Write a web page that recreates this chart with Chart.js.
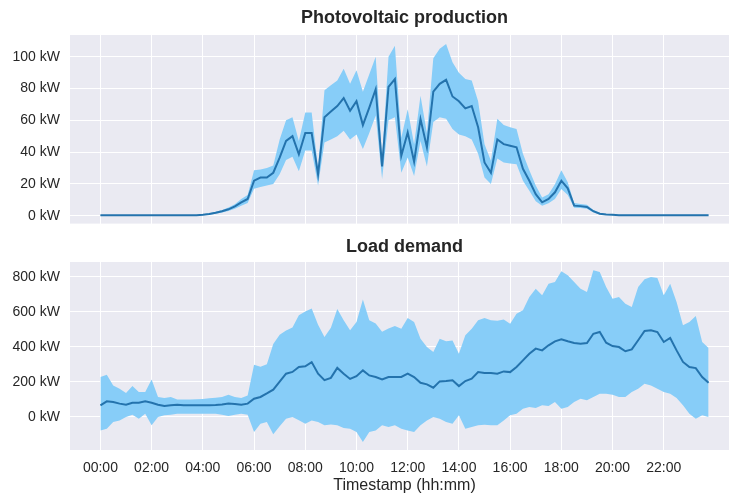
<!DOCTYPE html>
<html>
<head>
<meta charset="utf-8">
<script src="https://cdn.jsdelivr.net/npm/chart.js@4.4.0/dist/chart.umd.min.js"></script>
<style>
  html, body { margin: 0; padding: 0; background: #fff; overflow: hidden; }
  #wrap { position: relative; width: 729px; height: 495px; overflow: hidden; }
  canvas { position: absolute; left: 0; }
  #pvChart { top: 0; }
  #loadChart { top: 233px; }
</style>
</head>
<body>
<div id="wrap">
  <canvas id="pvChart" width="810" height="242"></canvas>
  <canvas id="loadChart" width="810" height="262"></canvas>
</div>
<script>
// 15 minute slots, x in hours
const slotHours = Array.from({ length: 96 }, (_, i) => i * 0.25);
const hourTicks = [0, 2, 4, 6, 8, 10, 12, 14, 16, 18, 20, 22];
const hourLabels = ['00:00', '02:00', '04:00', '06:00', '08:00', '10:00',
                    '12:00', '14:00', '16:00', '18:00', '20:00', '22:00'];

// Photovoltaic production (kW)
const pvMean = [
  0.2, 0.2, 0.2, 0.2, 0.2, 0.2, 0.2, 0.2, 0.2, 0.2,
  0.2, 0.2, 0.2, 0.2, 0.2, 0.2, 0.5, 1.0, 1.8, 2.8,
  4.0, 5.8, 8.4, 10.5, 22, 24, 24, 27, 36.5, 47,
  50, 38.6, 52, 52, 26, 62, 65.5, 69, 74, 66,
  72, 57, 68, 79.6, 31, 81, 86, 37.7, 52.4, 34,
  60.8, 43, 78, 83, 85.5, 75, 72, 67.5, 69, 55.6,
  33.5, 27, 48, 45, 44, 43, 29.5, 22, 13.5, 8.4,
  10.5, 14.7, 22, 17.2, 6.3, 6.0, 5.5, 2.8, 1.2, 0.7,
  0.5, 0.3, 0.3, 0.3, 0.3, 0.3, 0.3, 0.3, 0.3, 0.3,
  0.3, 0.3, 0.3, 0.3, 0.3, 0.3
];
const pvUpper = [
  0.4, 0.4, 0.4, 0.4, 0.4, 0.4, 0.4, 0.4, 0.4, 0.4,
  0.4, 0.4, 0.4, 0.4, 0.4, 0.4, 0.9, 1.5, 2.4, 3.6,
  5.2, 7.2, 10.5, 13, 28.5, 29, 30, 31.5, 48, 60,
  62, 47, 65, 65, 30, 79, 82, 85, 92.5, 83,
  91.5, 78, 89, 100, 37, 100, 107, 49, 67, 45,
  75.5, 52, 99, 105, 108, 96.6, 90, 86, 85, 72,
  45, 34.6, 61, 57, 55.6, 54.6, 39, 28.5, 19, 11.4,
  13.5, 19.8, 28.5, 21, 8, 7.3, 6.8, 3.6, 1.8, 1.1,
  0.8, 0.5, 0.5, 0.5, 0.5, 0.5, 0.5, 0.5, 0.5, 0.5,
  0.5, 0.5, 0.5, 0.5, 0.5, 0.5
];
const pvLower = [
  0, 0, 0, 0, 0, 0, 0, 0, 0, 0,
  0, 0, 0, 0, 0, 0, 0.2, 0.6, 1.2, 2.0,
  2.9, 4.4, 6.3, 8, 17, 18, 19, 20, 26, 35,
  37, 28, 41, 41, 19, 46, 48, 50, 53.5, 48,
  51, 42, 52, 63, 23, 60, 62, 27, 36.6, 25,
  47, 31, 59, 62, 61, 54.6, 51, 50, 48, 39,
  24, 20, 36, 33.5, 32.8, 32.4, 22, 15.7, 9, 6.3,
  7.8, 10.5, 16.8, 13, 5, 4.8, 4.4, 2.0, 0.7, 0.4,
  0.2, 0.1, 0.1, 0.1, 0.1, 0.1, 0.1, 0.1, 0.1, 0.1,
  0.1, 0.1, 0.1, 0.1, 0.1, 0.1
];
const pvTicks = [0, 20, 40, 60, 80, 100];

// Load demand (kW)
const loadMean = [
  65, 88, 84, 75, 69, 80, 80, 88, 80, 69,
  61, 65, 69, 65, 65, 65, 65, 66, 67, 70,
  75, 73, 69, 75, 103, 113, 133, 155, 200, 246,
  256, 284, 288, 312, 246, 209, 222, 279, 246, 216,
  232, 265, 236, 227, 213, 227, 227, 227, 246, 227,
  194, 185, 166, 202, 204, 208, 175, 204, 217, 255,
  250, 250, 246, 259, 255, 284, 322, 360, 389, 379,
  408, 431, 442, 431, 421, 417, 421, 474, 484, 423,
  404, 398, 374, 385, 437, 490, 494, 484, 427, 450,
  379, 313, 284, 278, 227, 194
];
const loadUpper = [
  227, 240, 179, 160, 135, 175, 141, 141, 213, 113,
  107, 113, 99, 99, 99, 100, 102, 105, 108, 113,
  126, 113, 107, 122, 297, 285, 300, 415, 468, 492,
  510, 580, 601, 618, 525, 456, 508, 616, 551, 494,
  541, 670, 551, 532, 486, 504, 518, 503, 564, 541,
  446, 398, 370, 446, 431, 436, 360, 465, 503, 551,
  564, 551, 548, 556, 531, 589, 608, 684, 731, 694,
  760, 770, 831, 808, 770, 731, 713, 837, 827, 741,
  674, 684, 646, 627, 741, 785, 798, 792, 694, 760,
  655, 522, 541, 575, 427, 393
];
const loadLower = [
  -78, -68, -30, -21, -2, 12, -11, 17, -49, -2,
  8, 12, 17, 17, 17, 17, 17, 17, 17, 12,
  4, 12, 17, 12, -87, -40, -30, -100, -55, -11,
  -2, -20, -40, -21, -30, -49, -45, -49, -65, -68,
  -87, -145, -87, -78, -49, -59, -49, -68, -78, -87,
  -49, -21, -2, -11, -30, -40, 8, -68, -59, -49,
  -46, -49, -49, -21, 8, 17, 46, 55, 50, 65,
  61, 84, 46, 55, 84, 103, 94, 113, 131, 131,
  126, 113, 113, 141, 160, 189, 179, 160, 141, 131,
  107, 65, 17, -11, 8, -2
];
const loadTicks = [0, 200, 400, 600, 800];

const LINE = '#2473ad';
const BAND = '#87cdf8';
const TEXT = '#262626';
const PLOT_BG = '#eaeaf2';

Chart.defaults.font.family = "'Liberation Sans', Arial, sans-serif";
Chart.defaults.color = TEXT;

// plot background + subplot title centred on the axes
const plotDecor = {
  id: 'plotDecor',
  beforeDraw(chart, args, opts) {
    const { ctx, chartArea: a } = chart;
    ctx.save();
    ctx.fillStyle = PLOT_BG;
    ctx.fillRect(a.left, a.top, a.right - a.left, a.bottom - a.top);
    ctx.fillStyle = TEXT;
    ctx.font = "bold 18px 'Liberation Sans', Arial, sans-serif";
    ctx.textAlign = 'center';
    ctx.textBaseline = 'middle';
    ctx.fillText(opts.text, (a.left + a.right) / 2, opts.y);
    ctx.restore();
  }
};

const toPts = arr => arr.map((v, i) => ({ x: slotHours[i], y: v }));

function makeChart(id, title, titleY, mean, upper, lower, yMin, yMax, yTicks, showX, topPad, bottomPad, xHeight) {
  return new Chart(document.getElementById(id), {
    type: 'line',
    data: {
      datasets: [
        { data: toPts(mean), borderColor: LINE, borderWidth: 2, pointRadius: 0, fill: false, tension: 0 },
        { data: toPts(upper), borderColor: 'rgba(0,0,0,0)', borderWidth: 0, pointRadius: 0,
          backgroundColor: BAND, fill: '+1', tension: 0 },
        { data: toPts(lower), borderColor: 'rgba(0,0,0,0)', borderWidth: 0, pointRadius: 0, fill: false, tension: 0 }
      ]
    },
    options: {
      responsive: false,
      animation: false,
      layout: { autoPadding: false, padding: { left: 0, right: 71, top: topPad, bottom: bottomPad } },
      plugins: {
        legend: { display: false },
        tooltip: { enabled: false },
        title: { display: false },
        plotDecor: { text: title, y: titleY }
      },
      scales: {
        x: {
          type: 'linear',
          min: -1.1875,
          max: 24.9375,
          grid: { color: '#ffffff', lineWidth: 1, drawTicks: false },
          border: { display: false },
          afterBuildTicks: s => { s.ticks = hourTicks.map(v => ({ value: v })); },
          afterFit: s => { s.height = xHeight; },
          ticks: {
            display: showX,
            autoSkip: false,
            maxRotation: 0,
            padding: 10,
            color: TEXT,
            font: { size: 14 },
            callback: v => hourLabels[hourTicks.indexOf(v)]
          },
          title: {
            display: showX,
            text: 'Timestamp (hh:mm)',
            color: TEXT,
            font: { size: 16 },
            padding: { top: 0, bottom: 0 }
          }
        },
        y: {
          min: yMin,
          max: yMax,
          grid: { color: '#ffffff', lineWidth: 1, drawTicks: false },
          border: { display: false },
          afterBuildTicks: s => { s.ticks = yTicks.map(v => ({ value: v })); },
          afterFit: s => { s.width = 70; },
          ticks: {
            padding: 10,
            color: TEXT,
            font: { size: 14 },
            callback: v => v + ' kW'
          }
        }
      }
    },
    plugins: [plotDecor]
  });
}

makeChart('pvChart', 'Photovoltaic production', 18, pvMean, pvUpper, pvLower,
  -5, 113.7, pvTicks, false, 35, 0, 10);
makeChart('loadChart', 'Load demand', 14, loadMean, loadUpper, loadLower,
  -190, 884, loadTicks, true, 29, 0, 45);
</script>
</body>
</html>
